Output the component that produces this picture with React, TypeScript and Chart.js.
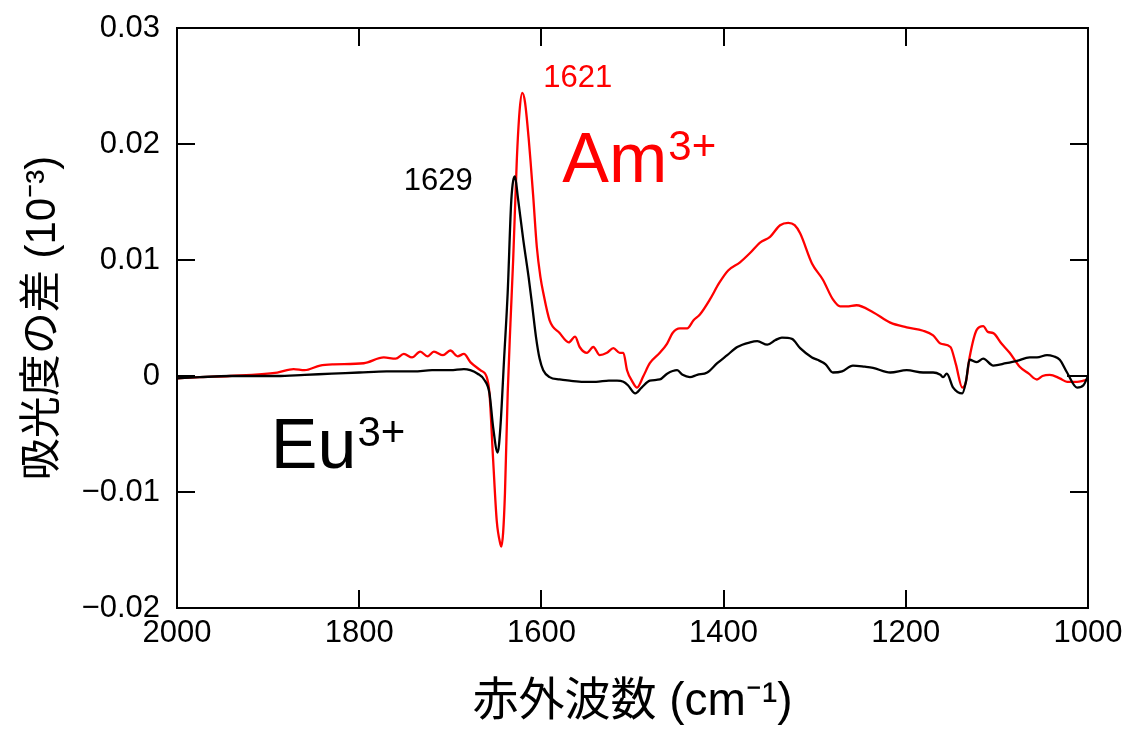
import React, { useEffect, useRef } from "react";
import { Chart, registerables } from "chart.js";

Chart.register(...registerables);

// Am3+ (red) spectrum
const amWavenumbers = [
  2000, 1975, 1942, 1890, 1872, 1860, 1843, 1828, 1795, 1773, 1760, 1751, 1742, 1733, 1725, 1718, 1708,
  1700, 1692, 1685, 1678, 1667, 1660, 1657, 1653, 1649, 1645, 1644, 1642, 1640, 1637, 1634, 1631, 1627,
  1624, 1621, 1618, 1614, 1612, 1609, 1605, 1601, 1598, 1591, 1580, 1570, 1563, 1558, 1550, 1543, 1536,
  1528, 1521, 1514, 1510, 1506, 1500, 1495, 1488, 1481, 1470, 1462, 1456, 1448, 1440, 1433, 1426, 1415,
  1405, 1395, 1382, 1371, 1360, 1349, 1338, 1329, 1322, 1316, 1303, 1291, 1280, 1272, 1265, 1254, 1236,
  1217, 1199, 1181, 1170, 1162, 1151, 1145, 1138, 1134, 1130, 1122, 1115, 1110, 1104, 1095, 1086, 1075,
  1065, 1056, 1050, 1042, 1031, 1023, 1012, 1005, 1000,
];
const amValues = [
  -0.0002, -0.0001, 0.0, 0.0003, 0.0006, 0.0005, 0.0009, 0.001, 0.0011, 0.0016, 0.0015, 0.0019, 0.0016,
  0.0021, 0.0017, 0.0021, 0.0018, 0.0022, 0.0017, 0.0019, 0.0012, 0.0005, -0.0001, -0.0015, -0.0072,
  -0.0125, -0.0145, -0.0147, -0.0135, -0.0101, -0.0015, 0.0045, 0.01, 0.0186, 0.0228, 0.0244, 0.0236,
  0.0205, 0.0186, 0.0155, 0.0111, 0.0085, 0.0072, 0.0048, 0.0037, 0.0029, 0.0034, 0.0025, 0.002, 0.0025,
  0.0018, 0.002, 0.0024, 0.002, 0.002, 0.0005, -0.0005, -0.001, 0.0, 0.0011, 0.002, 0.0028, 0.0037,
  0.0041, 0.0041, 0.0048, 0.0053, 0.0066, 0.008, 0.0091, 0.0098, 0.0106, 0.0115, 0.012, 0.013, 0.0132,
  0.013, 0.0123, 0.0097, 0.0083, 0.0066, 0.006, 0.006, 0.0061, 0.0055, 0.0046, 0.0042, 0.0039, 0.0035,
  0.0028, 0.0025, 0.001, -0.001, -0.0005, 0.0016, 0.004, 0.0043, 0.0038, 0.0037, 0.0028, 0.002, 0.0008,
  0.0002, -0.0003, 0.0, 0.0001, -0.0002, -0.0005, -0.0005, -0.0004, -0.0003,
];

// Eu3+ (black) spectrum
const euWavenumbers = [
  2000, 1975, 1942, 1890, 1860, 1830, 1800, 1770, 1740, 1720, 1700, 1685, 1678, 1670, 1663, 1657, 1653,
  1648, 1645, 1641, 1637, 1633, 1629, 1626, 1620, 1614, 1610, 1606, 1602, 1598, 1591, 1580, 1569, 1554,
  1540, 1526, 1517, 1510, 1505, 1497, 1490, 1481, 1470, 1462, 1451, 1445, 1437, 1429, 1418, 1407, 1396,
  1385, 1371, 1363, 1352, 1343, 1336, 1325, 1316, 1303, 1297, 1288, 1280, 1270, 1258, 1245, 1236, 1217,
  1199, 1181, 1170, 1162, 1159, 1155, 1148, 1138, 1134, 1130, 1122, 1115, 1104, 1090, 1078, 1064, 1056,
  1045, 1038, 1031, 1023, 1012, 1005, 1000,
];
const euValues = [
  -0.0002, -0.0001, 0.0, 0.0, 0.0001, 0.0002, 0.0003, 0.0004, 0.0004, 0.0005, 0.0005, 0.0006, 0.0005,
  0.0002, -0.0003, -0.0015, -0.0044, -0.0066, -0.0044, 0.0014, 0.0072, 0.0152, 0.0172, 0.0155, 0.0118,
  0.0085, 0.006, 0.0034, 0.0015, 0.0005, -0.0001, -0.0003, -0.0004, -0.0005, -0.0005, -0.0004, -0.0004,
  -0.0005, -0.0008, -0.0015, -0.001, -0.0004, -0.0003, 0.0002, 0.0005, 0.0001, -0.0001, 0.0001, 0.0003,
  0.0011, 0.0018, 0.0025, 0.0029, 0.003, 0.0027, 0.0031, 0.0033, 0.0032, 0.0024, 0.0016, 0.0014, 0.001,
  0.0003, 0.0004, 0.0009, 0.0008, 0.0007, 0.0003, 0.0005, 0.0003, 0.0003, 0.0001, -0.0001, 0.0002, -0.001,
  -0.0015, -0.0005, 0.0014, 0.0012, 0.0015, 0.0009, 0.0011, 0.0013, 0.0016, 0.0016, 0.0018, 0.0017,
  0.0014, 0.0003, -0.001, -0.0008, 0.0,
];

// short zero baseline segment at the right end
const baselineWavenumbers = [1023, 1000];
const baselineValues = [0, 0];

const xTickValues = [2000, 1800, 1600, 1400, 1200, 1000];
const yTickValues = [-0.02, -0.01, 0, 0.01, 0.02, 0.03];

const xTitle = "赤外波数 (cm⁻¹)";
const yTitle = "吸光度の差 (10⁻³)";

const FONT = "'Liberation Sans', Arial, 'Noto Sans CJK JP', sans-serif";

function fmtY(v: number): string {
  if (Math.abs(v) < 1e-9) return "0";
  const s = v.toFixed(2);
  return s.replace("-", "\u2212");
}

const frameAndAnnotations = {
  id: "frameAndAnnotations",
  afterDatasetsDraw(chart: any) {
    const { ctx, chartArea, scales } = chart;
    const xs = scales.x;
    const ys = scales.y;
    const { left, right, top, bottom } = chartArea;
    ctx.save();
    ctx.strokeStyle = "#000";
    ctx.lineWidth = 2;
    ctx.strokeRect(left, top, right - left, bottom - top);
    const tl = 18;
    ctx.beginPath();
    for (const v of xTickValues) {
      const px = Math.round(xs.getPixelForValue(v));
      if (Math.abs(px - left) < 2 || Math.abs(px - right) < 2) continue;
      ctx.moveTo(px, bottom);
      ctx.lineTo(px, bottom - tl);
      ctx.moveTo(px, top);
      ctx.lineTo(px, top + tl);
    }
    for (const v of yTickValues) {
      const py = Math.round(ys.getPixelForValue(v));
      if (Math.abs(py - top) < 2 || Math.abs(py - bottom) < 2) continue;
      ctx.moveTo(left, py);
      ctx.lineTo(left + tl, py);
      ctx.moveTo(right, py);
      ctx.lineTo(right - tl, py);
    }
    ctx.stroke();

    ctx.textBaseline = "alphabetic";
    ctx.textAlign = "left";
    // peak labels
    ctx.font = `31px ${FONT}`;
    ctx.fillStyle = "#000";
    ctx.fillText("1629", xs.getPixelForValue(1751), ys.getPixelForValue(0.016));
    ctx.fillStyle = "#ff0000";
    ctx.fillText("1621", xs.getPixelForValue(1598), ys.getPixelForValue(0.0249));

    const drawIon = (base: string, sup: string, wx: number, wy: number, color: string) => {
      const x = xs.getPixelForValue(wx);
      const y = ys.getPixelForValue(wy);
      ctx.fillStyle = color;
      ctx.font = `70px ${FONT}`;
      ctx.fillText(base, x, y);
      const w = ctx.measureText(base).width;
      ctx.font = `42px ${FONT}`;
      ctx.fillText(sup, x + w + 1, y - 22);
    };
    drawIon("Am", "3+", 1577, 0.0167, "#ff0000");
    drawIon("Eu", "3+", 1897, -0.0079, "#000000");
    ctx.restore();
  },
};

export default function App() {
  const ref = useRef<HTMLCanvasElement | null>(null);
  useEffect(() => {
    if (!ref.current) return;
    const amData = amWavenumbers.map((x, i) => ({ x, y: amValues[i] }));
    const euData = euWavenumbers.map((x, i) => ({ x, y: euValues[i] }));
    const baseData = baselineWavenumbers.map((x, i) => ({ x, y: baselineValues[i] }));
    const chart = new Chart(ref.current, {
      type: "line",
      data: {
        datasets: [
          {
            label: "baseline",
            data: baseData,
            borderColor: "#000000",
            borderWidth: 2,
            pointRadius: 0,
            fill: false,
          },
          {
            label: "Eu3+",
            data: euData,
            borderColor: "#000000",
            borderWidth: 2.3,
            pointRadius: 0,
            cubicInterpolationMode: "monotone",
            fill: false,
          },
          {
            label: "Am3+",
            data: amData,
            borderColor: "#ff0000",
            borderWidth: 2.3,
            pointRadius: 0,
            cubicInterpolationMode: "monotone",
            fill: false,
          },
        ],
      },
      options: {
        responsive: false,
        animation: false,
        events: [],
        layout: { padding: { top: 28, right: 38, left: 0, bottom: 0 } },
        plugins: { legend: { display: false }, tooltip: { enabled: false } },
        scales: {
          x: {
            type: "linear",
            reverse: true,
            min: 1000,
            max: 2000,
            afterBuildTicks: (s: any) => {
              s.ticks = xTickValues.map((v) => ({ value: v }));
            },
            afterFit: (s: any) => {
              s.height = 122;
              s.paddingLeft = 0;
              s.paddingRight = 0;
            },
            grid: { display: false, drawTicks: false },
            border: { display: false },
            ticks: {
              color: "#000",
              padding: 7,
              maxRotation: 0,
              font: { family: FONT, size: 31 },
              callback: (v: any) => String(v),
            },
            title: {
              display: true,
              text: xTitle,
              color: "#000",
              font: { family: FONT, size: 46 },
              padding: { top: 8, bottom: 0 },
            },
          },
          y: {
            type: "linear",
            min: -0.02,
            max: 0.03,
            afterBuildTicks: (s: any) => {
              s.ticks = yTickValues.map((v) => ({ value: v }));
            },
            afterFit: (s: any) => {
              s.width = 177;
              s.paddingTop = 0;
              s.paddingBottom = 0;
            },
            grid: { display: false, drawTicks: false },
            border: { display: false },
            ticks: {
              color: "#000",
              padding: 17,
              font: { family: FONT, size: 31 },
              callback: (v: any) => fmtY(Number(v)),
            },
            title: {
              display: true,
              text: yTitle,
              color: "#000",
              font: { family: FONT, size: 42 },
              padding: { top: 18, bottom: 0 },
            },
          },
        },
      },
      plugins: [frameAndAnnotations],
    });
    return () => chart.destroy();
  }, []);
  return (
    <div style={{ position: "absolute", left: 0, top: 0, width: 1126, height: 730, background: "#fff" }}>
      <canvas ref={ref} width={1126} height={730} style={{ display: "block" }} />
    </div>
  );
}
